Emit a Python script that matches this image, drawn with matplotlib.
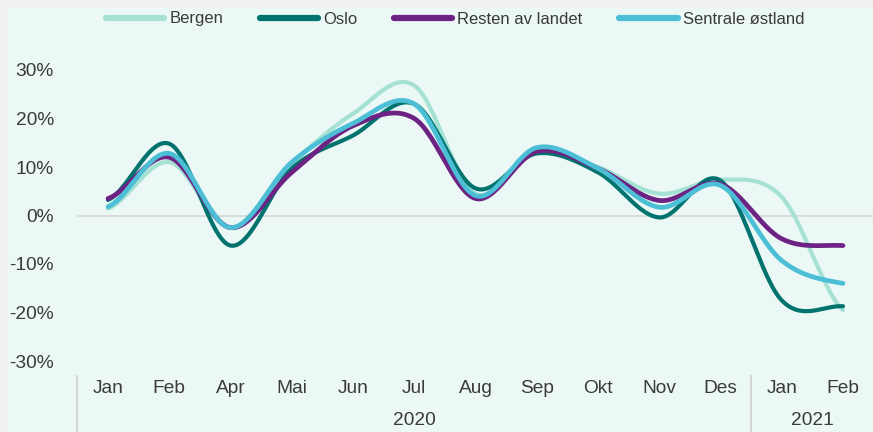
#!/usr/bin/env python3
"""Monthly change by region, 2020-2021, smoothed lines in Excel style."""

import numpy as np
import matplotlib

matplotlib.use("Agg")
import matplotlib.pyplot as plt

months = ["Jan", "Feb", "Apr", "Mai", "Jun", "Jul", "Aug", "Sep", "Okt", "Nov", "Des", "Jan", "Feb"]
years = ["2020", "2021"]
year_sizes = [11, 2]

bergen = [1.4, 11.0, -2.5, 10.7, 21.0, 26.8, 4.5, 13.3, 10.0, 4.5, 7.4, 3.8, -19.5]
oslo = [3.2, 14.8, -6.2, 9.7, 16.5, 23.0, 5.6, 12.8, 8.9, -0.4, 7.2, -17.5, -18.7]
resten = [3.5, 12.0, -2.5, 8.9, 18.5, 20.0, 3.5, 13.2, 9.7, 3.1, 6.5, -4.8, -6.2]
sentrale = [1.8, 12.8, -2.5, 11.0, 19.0, 23.0, 4.1, 14.0, 9.7, 1.7, 6.2, -9.3, -14.0]

series = [
    ("Bergen", bergen, "#a6e2d3", 3.0),
    ("Oslo", oslo, "#00736e", 3.0),
    ("Resten av landet", resten, "#6d2383", 3.4),
    ("Sentrale østland", sentrale, "#4cbfd7", 3.4),
]

BG = "#ecf8f5"
TXT = "#3a3a3a"
FONT = "Liberation Sans"


def smooth(y, n=30):
    # Catmull-Rom through every point, like Excel "smoothed line"
    y = np.asarray(y, dtype=float)
    x = np.arange(len(y), dtype=float)
    p = np.concatenate([[y[0]], y, [y[-1]]])
    xs, ys = [], []
    t = np.linspace(0, 1, n, endpoint=False)
    for i in range(len(y) - 1):
        p0, p1, p2, p3 = p[i], p[i + 1], p[i + 2], p[i + 3]
        m1 = (p2 - p0) / 2
        m2 = (p3 - p1) / 2
        h00 = 2 * t**3 - 3 * t**2 + 1
        h10 = t**3 - 2 * t**2 + t
        h01 = -2 * t**3 + 3 * t**2
        h11 = t**3 - t**2
        ys.append(h00 * p1 + h10 * m1 + h01 * p2 + h11 * m2)
        xs.append(x[i] + t)
    xs.append([x[-1]])
    ys.append([y[-1]])
    return np.concatenate(xs), np.concatenate(ys)


plt.rcParams["font.family"] = [FONT, "DejaVu Sans"]

fig = plt.figure(figsize=(8.73, 4.32), dpi=100, facecolor="#f0f0f0")

# mint panel, the grey strip on the left and top is part of the original crop
bg = fig.add_axes([8 / 873, 0, 865 / 873, 424 / 432], zorder=-10)
bg.set_facecolor(BG)
bg.set_axis_off()
bg.patch.set_visible(True)
bg.axison = False
bg.add_patch(plt.Rectangle((0, 0), 1, 1, transform=bg.transAxes, facecolor=BG, edgecolor="none"))

ax = fig.add_axes([77.4 / 873, 71 / 432, 796.2 / 873, 291 / 432])
ax.set_facecolor("none")

ax.axhline(0, color="#d9d9d9", lw=1.3, zorder=1)

for name, vals, color, lw in series:
    xs, ys = smooth(vals)
    ax.plot(xs, ys, color=color, lw=lw, label=name, solid_capstyle="round", zorder=2)

ax.set_xlim(-0.5, len(months) - 0.5)
ax.set_ylim(-30, 30)
ax.set_yticks(np.arange(-30, 31, 10))
ax.set_yticklabels([f"{v}%" for v in range(-30, 31, 10)])
ax.set_xticks(range(len(months)))
ax.set_xticklabels(months)

for s in ax.spines.values():
    s.set_visible(False)
ax.tick_params(axis="both", length=0, labelsize=13.8, colors=TXT)
ax.tick_params(axis="y", pad=17)
ax.tick_params(axis="x", pad=14)

# year level of the category axis
tr = ax.get_xaxis_transform()
start = 0
edges = [-0.5]
for yr, n in zip(years, year_sizes):
    mid = start + (n - 1) / 2
    ax.text(mid, -0.205, yr, transform=tr, ha="center", va="center",
            fontsize=13.8, color=TXT)
    start += n
    edges.append(start - 0.5)
for e in edges[:-1]:
    ax.plot([e, e], [-0.052, -0.26], transform=tr, color="#cfcfcf", lw=1.2, clip_on=False)

leg = fig.legend(
    loc="center", bbox_to_anchor=(455 / 873, 1 - 19 / 432), ncol=4, frameon=False,
    fontsize=12, handlelength=3.5, handletextpad=0.3, columnspacing=2.2,
    labelcolor=TXT,
)
for line in leg.get_lines():
    line.set_linewidth(4.5)
    line.set_solid_capstyle("round")

fig.savefig("out.png", dpi=100, facecolor=fig.get_facecolor())
